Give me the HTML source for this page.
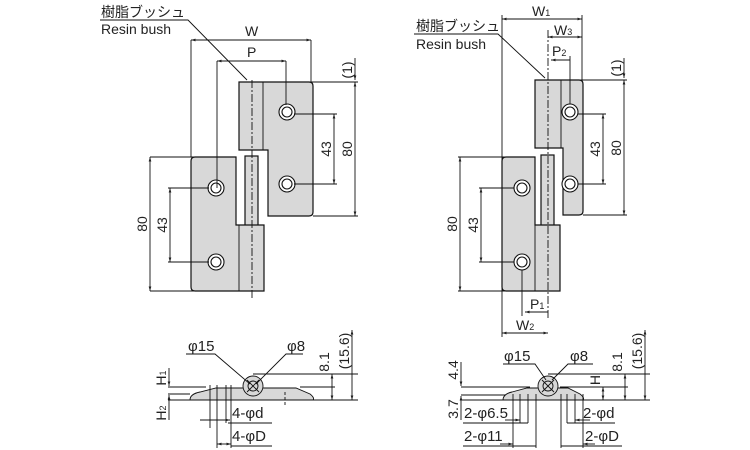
<!DOCTYPE html>
<html><head><meta charset="utf-8"><style>
html,body{margin:0;padding:0;background:#fff;}
svg{display:block;}
text{font-family:"Liberation Sans","Noto Sans CJK JP",sans-serif;fill:#222;}
</style></head><body>
<svg width="750" height="450" viewBox="0 0 750 450" xmlns="http://www.w3.org/2000/svg">
<defs>
<marker id="a" viewBox="0 0 10 10" refX="10" refY="5" markerWidth="5" markerHeight="5" orient="auto-start-reverse"><path d="M0,2 L10,5 L0,8 Z" fill="#222"/></marker>
</defs>
<g stroke="#111" stroke-width="0.9" fill="none">
<!-- LEFT TOP VIEW -->
<path d="M239,82 H309 q4,0 4,4 V212 q0,4 -4,4 H268 V150 H239 Z" fill="#d8d8d8" stroke-width="1.2"/>
<line x1="263" y1="82" x2="263" y2="150"/>
<rect x="245" y="156" width="13" height="72" fill="#d8d8d8" stroke-width="1.2"/>
<path d="M195,157 H236 V225 H264 V291 H195 q-4,0 -4,-4 V161 q0,-4 4,-4 Z" fill="#d8d8d8" stroke-width="1.2"/>
<line x1="239" y1="225" x2="239" y2="291"/>
<g fill="#fff" stroke-width="1.1"><circle cx="287" cy="112" r="8"/><circle cx="287" cy="112" r="5"/><circle cx="287" cy="184" r="8"/><circle cx="287" cy="184" r="5"/><circle cx="216" cy="188" r="8"/><circle cx="216" cy="188" r="5"/><circle cx="216" cy="262" r="8"/><circle cx="216" cy="262" r="5"/></g>
<line x1="252" y1="80" x2="252" y2="298" stroke-dasharray="8,2,2,2"/>
<line x1="191" y1="40" x2="191" y2="157"/><line x1="311" y1="40" x2="311" y2="82"/>
<line x1="191" y1="40" x2="311" y2="40" marker-start="url(#a)" marker-end="url(#a)"/>
<line x1="217" y1="61" x2="217" y2="188"/><line x1="286" y1="61" x2="286" y2="105"/>
<line x1="217" y1="61" x2="286" y2="61" marker-start="url(#a)" marker-end="url(#a)"/>
<line x1="263" y1="82" x2="358" y2="82"/><line x1="313" y1="216" x2="358" y2="216"/>
<line x1="294" y1="114" x2="337" y2="114"/><line x1="294" y1="184" x2="337" y2="184"/>
<line x1="334" y1="114" x2="334" y2="184" marker-start="url(#a)" marker-end="url(#a)"/>
<line x1="355" y1="82" x2="355" y2="216" marker-start="url(#a)" marker-end="url(#a)"/>
<line x1="355" y1="58" x2="355" y2="80" marker-end="url(#a)"/>
<line x1="150" y1="157" x2="195" y2="157"/><line x1="150" y1="291" x2="195" y2="291"/>
<line x1="150" y1="157" x2="150" y2="291" marker-start="url(#a)" marker-end="url(#a)"/>
<line x1="168" y1="188" x2="209" y2="188"/><line x1="168" y1="262" x2="209" y2="262"/>
<line x1="170" y1="188" x2="170" y2="262" marker-start="url(#a)" marker-end="url(#a)"/>
<polyline points="100,20 188,20 247,80"/>
<!-- RIGHT TOP VIEW -->
<path d="M535,80 H579 q4,0 4,4 V211 q0,4 -4,4 H563 V148 H535 Z" fill="#d8d8d8" stroke-width="1.2"/>
<line x1="561" y1="80" x2="561" y2="148"/>
<rect x="541" y="155" width="13" height="71" fill="#d8d8d8" stroke-width="1.2"/>
<path d="M506,157 H535 V225 H560 V291 H506 q-4,0 -4,-4 V161 q0,-4 4,-4 Z" fill="#d8d8d8" stroke-width="1.2"/>
<line x1="535" y1="225" x2="535" y2="291"/>
<g fill="#fff" stroke-width="1.1"><circle cx="570" cy="112" r="8"/><circle cx="570" cy="112" r="5"/><circle cx="570" cy="184" r="8"/><circle cx="570" cy="184" r="5"/><circle cx="522" cy="188" r="8"/><circle cx="522" cy="188" r="5"/><circle cx="522" cy="262" r="8"/><circle cx="522" cy="262" r="5"/></g>
<line x1="548" y1="30" x2="548" y2="320" stroke-dasharray="8,2,2,2"/>
<line x1="502" y1="15" x2="502" y2="337"/><line x1="582" y1="15" x2="582" y2="80"/>
<line x1="502" y1="19" x2="582" y2="19" marker-start="url(#a)" marker-end="url(#a)"/>
<line x1="548" y1="37" x2="582" y2="37" marker-start="url(#a)" marker-end="url(#a)"/>
<line x1="570" y1="56" x2="570" y2="104"/>
<line x1="551" y1="60" x2="570" y2="60" marker-start="url(#a)"/>
<line x1="535" y1="80" x2="627" y2="80"/><line x1="583" y1="215" x2="627" y2="215"/>
<line x1="578" y1="114" x2="606" y2="114"/><line x1="578" y1="184" x2="606" y2="184"/>
<line x1="603" y1="114" x2="603" y2="184" marker-start="url(#a)" marker-end="url(#a)"/>
<line x1="624" y1="80" x2="624" y2="215" marker-start="url(#a)" marker-end="url(#a)"/>
<line x1="624" y1="58" x2="624" y2="78" marker-end="url(#a)"/>
<line x1="458" y1="157" x2="506" y2="157"/><line x1="458" y1="291" x2="506" y2="291"/>
<line x1="460" y1="157" x2="460" y2="291" marker-start="url(#a)" marker-end="url(#a)"/>
<line x1="479" y1="188" x2="514" y2="188"/><line x1="479" y1="262" x2="514" y2="262"/>
<line x1="481" y1="188" x2="481" y2="262" marker-start="url(#a)" marker-end="url(#a)"/>
<line x1="522" y1="270" x2="522" y2="316"/>
<line x1="525" y1="312" x2="548" y2="312" marker-start="url(#a)"/>
<line x1="502" y1="333" x2="548" y2="333" marker-start="url(#a)" marker-end="url(#a)"/>
<polyline points="414,34 498,34 545,78"/>
<!-- BOTTOM LEFT -->
<path d="M190,400 Q190,394 200,392 L216,388 H296 L310,394 Q315,398 313,400 Z" fill="#d8d8d8"/>
<circle cx="253" cy="386" r="10" fill="#d8d8d8"/>
<circle cx="253" cy="386" r="5"/>
<line x1="247" y1="380" x2="259" y2="392"/><line x1="259" y1="380" x2="247" y2="392"/>
<line x1="168" y1="387" x2="206" y2="387"/><line x1="168" y1="394" x2="190" y2="394"/>
<line x1="253" y1="374" x2="358" y2="374"/><line x1="300" y1="387" x2="335" y2="387"/><line x1="313" y1="400" x2="358" y2="400"/>
<line x1="168" y1="400" x2="190" y2="400"/>
<line x1="169" y1="368" x2="169" y2="386" marker-end="url(#a)"/>
<line x1="169" y1="420" x2="169" y2="395" marker-end="url(#a)"/>
<line x1="332" y1="374" x2="332" y2="400" marker-start="url(#a)" marker-end="url(#a)"/>
<line x1="352" y1="330" x2="352" y2="400" marker-start="url(#a)" marker-end="url(#a)"/>
<line x1="210" y1="385" x2="210" y2="428"/><line x1="217" y1="385" x2="217" y2="448"/>
<line x1="226" y1="385" x2="226" y2="423"/><line x1="231" y1="385" x2="231" y2="448"/>
<line x1="200" y1="420" x2="230" y2="420" marker-end="url(#a)"/>
<line x1="217" y1="444" x2="231" y2="444" marker-start="url(#a)" marker-end="url(#a)"/>
<line x1="228" y1="423" x2="272" y2="423"/><line x1="231" y1="446" x2="272" y2="446"/>
<polyline points="186,354 215,354 250,384"/>
<polyline points="303,354 286,354 256,384"/>
<line x1="285" y1="392" x2="285" y2="406" stroke-dasharray="3,2"/>
<!-- BOTTOM RIGHT -->
<path d="M503,400 Q503,394 512,392 L527,388 H568 L580,394 Q585,398 583,400 Z" fill="#d8d8d8"/>
<circle cx="548" cy="386" r="10" fill="#d8d8d8"/>
<circle cx="548" cy="386" r="5"/>
<line x1="542" y1="380" x2="554" y2="392"/><line x1="554" y1="380" x2="542" y2="392"/>
<line x1="461" y1="387" x2="530" y2="387"/><line x1="461" y1="395" x2="505" y2="395"/><line x1="461" y1="400" x2="503" y2="400"/>
<line x1="548" y1="374" x2="650" y2="374"/><line x1="560" y1="387" x2="628" y2="387"/><line x1="583" y1="400" x2="650" y2="400"/>
<line x1="461" y1="362" x2="461" y2="386" marker-end="url(#a)"/>
<line x1="461" y1="420" x2="461" y2="396" marker-end="url(#a)"/>
<line x1="603" y1="387" x2="603" y2="400" marker-start="url(#a)" marker-end="url(#a)"/>
<line x1="625" y1="374" x2="625" y2="400" marker-start="url(#a)" marker-end="url(#a)"/>
<line x1="645" y1="330" x2="645" y2="400" marker-start="url(#a)" marker-end="url(#a)"/>
<line x1="513" y1="394" x2="513" y2="448"/><line x1="520" y1="394" x2="520" y2="423"/>
<line x1="528" y1="394" x2="528" y2="423"/><line x1="536" y1="394" x2="536" y2="448"/>
<line x1="561" y1="394" x2="561" y2="448"/><line x1="567" y1="394" x2="567" y2="423"/>
<line x1="575" y1="394" x2="575" y2="423"/><line x1="583" y1="394" x2="583" y2="448"/>
<line x1="463" y1="423" x2="528" y2="423"/><line x1="463" y1="446" x2="536" y2="446"/>
<line x1="567" y1="423" x2="615" y2="423"/><line x1="561" y1="446" x2="622" y2="446"/>
<line x1="505" y1="420" x2="520" y2="420" marker-end="url(#a)"/>
<line x1="500" y1="444" x2="513" y2="444" marker-end="url(#a)"/>
<line x1="590" y1="420" x2="575" y2="420" marker-end="url(#a)"/>
<line x1="595" y1="444" x2="583" y2="444" marker-end="url(#a)"/>
<polyline points="503,364 535,364 546,380"/>
<polyline points="593,364 568,364 552,380"/>
</g>
<g font-size="14">
<text x="101" y="17">樹脂ブッシュ</text>
<text x="101" y="34">Resin bush</text>
<text x="245" y="36">W</text>
<text x="247" y="57">P</text>
<text x="416" y="31">樹脂ブッシュ</text>
<text x="416" y="49">Resin bush</text>
<text x="532" y="16">W<tspan font-size="9">1</tspan></text>
<text x="554" y="35">W<tspan font-size="9">3</tspan></text>
<text x="552" y="56">P<tspan font-size="9">2</tspan></text>
<text x="530" y="309">P<tspan font-size="9">1</tspan></text>
<text x="516" y="330">W<tspan font-size="9">2</tspan></text>
<text transform="translate(331,149) rotate(-90)" text-anchor="middle">43</text>
<text transform="translate(352,149) rotate(-90)" text-anchor="middle">80</text>
<text transform="translate(352,70) rotate(-90)" text-anchor="middle">(1)</text>
<text transform="translate(147,224) rotate(-90)" text-anchor="middle">80</text>
<text transform="translate(167,225) rotate(-90)" text-anchor="middle">43</text>
<text transform="translate(600,149) rotate(-90)" text-anchor="middle">43</text>
<text transform="translate(621,148) rotate(-90)" text-anchor="middle">80</text>
<text transform="translate(621,68) rotate(-90)" text-anchor="middle">(1)</text>
<text transform="translate(457,224) rotate(-90)" text-anchor="middle">80</text>
<text transform="translate(478,225) rotate(-90)" text-anchor="middle">43</text>
<text transform="translate(329,362) rotate(-90)" text-anchor="middle">8.1</text>
<text transform="translate(349,351) rotate(-90)" text-anchor="middle">(15.6)</text>
<text transform="translate(166,378) rotate(-90)" text-anchor="middle">H<tspan font-size="9">1</tspan></text>
<text transform="translate(166,413) rotate(-90)" text-anchor="middle">H<tspan font-size="9">2</tspan></text>
<text transform="translate(458,370) rotate(-90)" text-anchor="middle">4.4</text>
<text transform="translate(458,409) rotate(-90)" text-anchor="middle">3.7</text>
<text transform="translate(600,380) rotate(-90)" text-anchor="middle">H</text>
<text transform="translate(622,362) rotate(-90)" text-anchor="middle">8.1</text>
<text transform="translate(642,351) rotate(-90)" text-anchor="middle">(15.6)</text>
</g>
<g font-size="15">
<text x="188" y="351">φ15</text>
<text x="287" y="351">φ8</text>
<text x="232" y="418">4-φd</text>
<text x="232" y="441">4-φD</text>
<text x="504" y="361">φ15</text>
<text x="570" y="361">φ8</text>
<text x="464" y="418">2-φ6.5</text>
<text x="464" y="441">2-φ11</text>
<text x="583" y="418">2-φd</text>
<text x="585" y="441">2-φD</text>
</g>
</svg>
</body></html>
